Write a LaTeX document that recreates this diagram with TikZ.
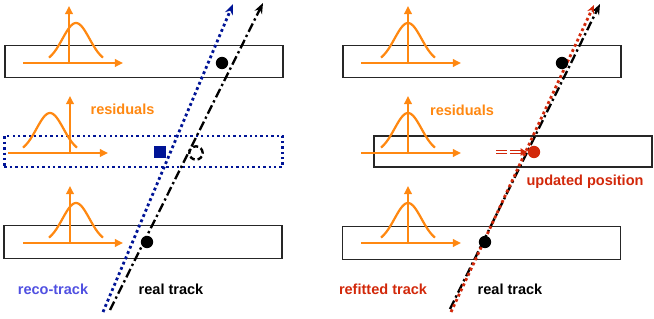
\documentclass[tikz,border=0pt]{standalone}
\usepackage{fontspec}
\setmainfont{Liberation Sans}
\usepackage{tikz}
\usetikzlibrary{arrows.meta}
\definecolor{residorange}{RGB}{255, 136, 17}
\definecolor{reconavy}{RGB}{0, 20, 150}
\definecolor{recoblue}{RGB}{80, 80, 225}
\definecolor{refitred}{RGB}{210, 40, 10}

\begin{document}
\begin{tikzpicture}[x=0.03cm, y=-0.03cm, every node/.style={font=\fontsize{12.4}{14}\selectfont\bfseries},
    detbox/.style={draw=black!85, line width=0.9pt, rectangle, minimum width=8.34cm, minimum height=0.97cm, inner sep=0pt},
    hitdot/.style={circle, fill=black, minimum size=0.37cm, inner sep=0pt},
    axisline/.style={residorange, line width=1.7pt, -{Triangle[length=7pt, width=6.5pt]}},
    dotline/.style={line width=2.4pt, dash pattern=on 2.4pt off 2.5pt},
    dashdotline/.style={black, line width=2pt, dash pattern=on 8pt off 2.8pt on 2pt off 2.8pt}]
    \useasboundingbox (0,0) rectangle (654,319);

    % Left: detector planes, middle one shown dotted (measurement dropped)
    \node [detbox] (ltop) at (144,61.5) {};
    \node [detbox, draw=reconavy, line width=2pt, dash pattern=on 2pt off 2.6pt, minimum height=0.93cm] (lmid) at (143.5,151.5) {};
    \node [detbox] (lbot) at (143,242) {};

    % Right: detector planes after the refit
    \node [detbox] (rtop) at (482,61.5) {};
    \node [detbox, minimum height=0.93cm] (rmid) at (513,151.5) {};
    \node [detbox] (rbot) at (481.5,243) {};

    % Residual distributions (arrow start, axis, baseline, peak)
    \foreach \hx/\ax/\by/\gc in {23/69/63/76, 8/70/153/50, 23/70/243/76, 361/408/63/408, 361/408/153/408, 361/408/243/408} {
        \draw [axisline] (\hx,\by) -- ++(100,0);
        \draw [axisline] (\ax,\by) -- ++(0,-57);
        \draw [residorange, line width=1.9pt] plot [domain=-27:27, samples=41, smooth] ({\gc+\x}, {\by-40*exp(-(\x*\x)/364.5)});
    }

    % Tracks, left panel
    \coordinate (recolow) at (103,312);
    \coordinate (recohigh) at (233,4);
    \coordinate (reallow) at (110,310);
    \coordinate (realhigh) at (263,3);
    \draw [dashdotline, -{Stealth[length=9pt, width=7pt]}] (reallow) -- (realhigh);
    \draw [dotline, reconavy, -{Stealth[length=9pt, width=7pt]}] (recolow) -- (recohigh);

    % Tracks, right panel
    \coordinate (refitlow) at (451,312);
    \coordinate (refithigh) at (594,5);
    \coordinate (realrlow) at (450,309);
    \coordinate (realrhigh) at (600,4);
    \draw [dashdotline, -{Stealth[length=9pt, width=7pt]}] (realrlow) -- (realrhigh);
    \draw [dotline, refitred, -{Stealth[length=7pt, width=6pt]}] (refitlow) -- (refithigh);

    % Hits
    \node [hitdot] (hittopl) at (222,63) {};
    \node [hitdot] (hitbotl) at (147,242) {};
    \node [hitdot] (hittopr) at (562,63) {};
    \node [hitdot] (hitbotr) at (485,242) {};
    \node [rectangle, fill=reconavy, minimum size=0.34cm, inner sep=0pt] (recopos) at (160,152) {};
    \node [circle, draw=black, line width=2pt, dash pattern=on 4.5pt off 2.5pt, minimum size=0.4cm, inner sep=0pt] (truepos) at (196,153) {};
    \node [hitdot, fill=refitred] (newpos) at (534,152) {};

    % Shift of the refitted position
    \coordinate (shiftstart) at (496,152);
    \draw [refitred, double, double distance=1.2pt, line width=0.9pt, dash pattern=on 9pt off 3pt, -{Latex[length=6pt, width=7pt]}] (shiftstart) -- (newpos.west);

    % Labels
    \node [residorange] (residl) at (122.5,109) {residuals};
    \node [residorange] (residr) at (462,110) {residuals};
    \node [refitred] (updlabel) at (585,182) {updated position};
    \node [recoblue] (recolabel) at (53,289) {reco-track};
    \node [black] (reallabel) at (171,289) {real track};
    \node [refitred] (refitlabel) at (383,289) {refitted track};
    \node [black] (realrlabel) at (510,289) {real track};
\end{tikzpicture}
\end{document}
